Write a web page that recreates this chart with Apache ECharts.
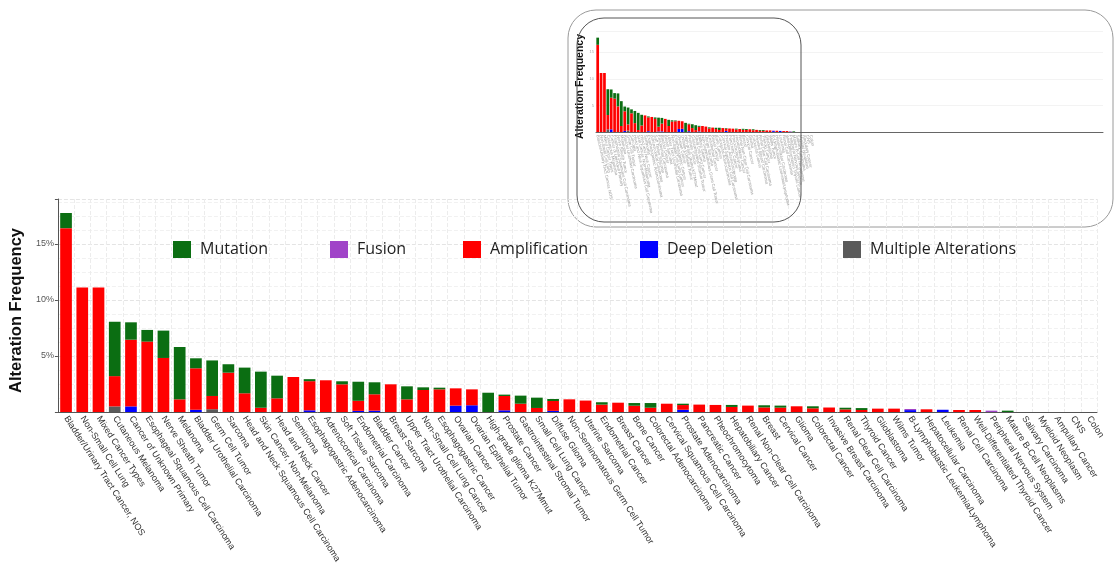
<!DOCTYPE html>
<html><head><meta charset="utf-8">
<script src="https://cdn.jsdelivr.net/npm/echarts@6/dist/echarts.min.js"></script>
<style>html,body{margin:0;padding:0;background:#fff}#c{width:1115px;height:567px}</style>
</head><body><div id="c"></div>
<script>
const categories = [
 'Bladder/Urinary Tract Cancer, NOS','Non-Small Cell Lung','Mixed Cancer Types','Cutaneous Melanoma',
 'Cancer of Unknown Primary','Esophageal Squamous Cell Carcinoma','Nerve Sheath Tumor','Melanoma',
 'Bladder Urothelial Carcinoma','Germ Cell Tumor','Sarcoma','Head and Neck Squamous Cell Carcinoma',
 'Skin Cancer, Non-Melanoma','Head and Neck Cancer','Seminoma','Esophagogastric Adenocarcinoma',
 'Adrenocortical Carcinoma','Soft Tissue Sarcoma','Endometrial Carcinoma','Bladder Cancer',
 'Breast Sarcoma','Upper Tract Urothelial Carcinoma','Non-Small Cell Lung Cancer','Esophagogastric Cancer',
 'Ovarian Cancer','Ovarian Epithelial Tumor','High-grade glioma K27Mmut','Prostate Cancer',
 'Gastrointestinal Stromal Tumor','Small Cell Lung Cancer','Diffuse Glioma','Non-Seminomatous Germ Cell Tumor',
 'Uterine Sarcoma','Endometrial Cancer','Breast Cancer','Bone Cancer',
 'Colorectal Adenocarcinoma','Cervical Squamous Cell Carcinoma','Prostate Adenocarcinoma','Pancreatic Cancer',
 'Pheochromocytoma','Hepatobiliary Cancer','Renal Non-Clear Cell Carcinoma','Breast',
 'Cervical Cancer','Glioma','Colorectal Cancer','Invasive Breast Carcinoma',
 'Renal Clear Cell Carcinoma','Thyroid Cancer','Glioblastoma','Wilms Tumor',
 'B-Lymphoblastic Leukemia/Lymphoma','Hepatocellular Carcinoma','Leukemia','Renal Cell Carcinoma',
 'Well-Differentiated Thyroid Cancer','Peripheral Nervous System','Mature B-Cell Neoplasms','Salivary Carcinoma',
 'Myeloid Neoplasm','Ampullary Cancer','CNS','Colon'
];
const mutation = [
 1.35,0,0,4.85, 1.55,1.04,2.44,4.67, 0.89,3.17,0.75,2.29,
 3.22,2.02,0,0.18, 0,0.27,1.7,1.07, 0,1.16,0.24,0.15,
 0,0,1.72,0.12, 0.72,0.92,0.18,0, 0,0.21,0,0.24,
 0.42,0,0.12,0, 0,0.18,0,0.19, 0.18,0,0.18,0,
 0.15,0.17,0,0, 0,0,0,0, 0,0,0.12,0, 0,0,0,0
];
const fusion = [
 0,0,0,0, 0,0,0,0, 0,0,0,0,
 0,0,0,0, 0,0,0,0, 0,0,0,0,
 0,0,0,0, 0,0,0,0, 0,0,0,0,
 0,0,0,0, 0,0,0,0, 0,0,0,0,
 0,0,0,0, 0.1,0,0,0, 0,0.12,0,0, 0,0,0,0
];
const amplification = [
 16.4,11.1,11.1,2.7, 5.95,6.28,4.82,1.13, 3.7,1.18,3.51,1.67,
 0.38,1.22,3.12,2.6, 2.83,2.47,0.9,1.46, 2.47,1.13,1.96,2.02,
 1.54,1.42,0,1.28, 0.74,0.36,0.88,1.13, 1.02,0.66,0.83,0.56,
 0.38,0.74,0.42,0.66, 0.63,0.45,0.57,0.41, 0.39,0.51,0.33,0.4,
 0.23,0.18,0.3,0.3, 0,0.24,0,0.18, 0.18,0,0,0, 0,0,0,0
];
const deepDeletion = [
 0,0,0,0, 0.5,0,0,0, 0.2,0,0,0,
 0,0,0,0.15, 0,0,0.1,0.12, 0,0,0,0,
 0.57,0.6,0,0.15, 0,0,0.1,0, 0,0,0,0,
 0,0,0.2,0, 0,0,0,0, 0,0,0,0,
 0,0,0,0, 0.17,0,0.2,0, 0,0,0,0, 0,0,0,0
];
const multipleAlterations = [
 0,0,0,0.5, 0,0,0,0, 0,0.25,0,0,
 0,0,0,0, 0,0,0,0, 0,0,0,0,
 0,0,0,0, 0,0,0,0, 0,0,0,0,
 0,0,0,0, 0,0,0,0, 0,0,0,0,
 0,0,0,0, 0,0,0,0, 0,0,0,0, 0,0,0,0
];
const yTicks = [5, 10, 15];
const insetUnlabelledCount = 86; // empty cancer types to the right in the overview inset

const colors = {
  'Mutation': '#0b6e12',
  'Fusion': '#a044c8',
  'Amplification': '#ff0000',
  'Deep Deletion': '#0000ff',
  'Multiple Alterations': '#5a5a5a'
};
const seriesDefs = [
  ['Multiple Alterations', multipleAlterations],
  ['Deep Deletion', deepDeletion],
  ['Fusion', fusion],
  ['Amplification', amplification],
  ['Mutation', mutation]
];
const insetCategories = categories.concat(new Array(insetUnlabelledCount).fill(''));
const pad = arr => arr.concat(new Array(insetUnlabelledCount).fill(0));

const series = [];
seriesDefs.forEach(([name, data]) => {
  series.push({ name, type: 'bar', stack: 'main', xAxisIndex: 0, yAxisIndex: 0, data,
    barWidth: '72%', itemStyle: { color: colors[name] }, emphasis: { disabled: true } });
});
seriesDefs.forEach(([name, data]) => {
  series.push({ name, type: 'bar', stack: 'inset', xAxisIndex: 1, yAxisIndex: 1, data: pad(data),
    barWidth: '80%', itemStyle: { color: colors[name] }, emphasis: { disabled: true } });
});

const legendLefts = { 'Mutation': 173, 'Fusion': 330, 'Amplification': 463, 'Deep Deletion': 640, 'Multiple Alterations': 843 };
const legends = Object.keys(legendLefts).map(n => ({
  data: [n], left: legendLefts[n], top: 241, padding: 0, icon: 'rect', itemWidth: 18, itemHeight: 17,
  textStyle: { fontFamily: 'Open Sans', fontSize: 16, color: '#1e1e1e', padding: [0, 0, 4, 4] },
  selectedMode: false
}));

const chart = echarts.init(document.getElementById('c'), null, { renderer: 'canvas' });
chart.setOption({
  animation: false,
  backgroundColor: '#fff',
  legend: legends,
  graphic: [
    { type: 'rect', z: -1, shape: { x: 568, y: 10, width: 545, height: 217, r: 28 },
      style: { fill: 'none', stroke: '#9a9a9a', lineWidth: 1 } },
    { type: 'rect', z: 100, shape: { x: 577, y: 18, width: 224, height: 204, r: 27 },
      style: { fill: 'none', stroke: '#555', lineWidth: 1 } }
  ],
  grid: [
    { left: 54, top: 199, width: 1043, height: 213 },
    { left: 596, top: 31, width: 507, height: 101 }
  ],
  xAxis: [
    { type: 'category', gridIndex: 0, data: categories,
      axisLine: { lineStyle: { color: '#555', width: 1 } },
      axisTick: { alignWithLabel: true, length: 3, lineStyle: { color: '#555' } },
      axisLabel: { interval: 0, rotate: -57, fontFamily: 'Liberation Sans', fontSize: 9, color: '#333', margin: 5 },
      splitLine: { show: true, interval: 0, lineStyle: { color: '#ececec', type: 'dashed' } } },
    { type: 'category', gridIndex: 1, data: insetCategories,
      axisLine: { lineStyle: { color: '#666', width: 1 } },
      axisTick: { show: false },
      axisLabel: { interval: 0, rotate: -78, fontFamily: 'Liberation Sans', fontSize: 4.2, color: '#9a9a9a', margin: 3 },
      splitLine: { show: false } }
  ],
  yAxis: [
    { type: 'value', gridIndex: 0, min: 0, max: 19, interval: 5,
      name: 'Alteration Frequency', nameLocation: 'middle', nameGap: 28,
      nameTextStyle: { fontFamily: 'Liberation Sans', fontWeight: 'bold', fontSize: 16.5, color: '#111', padding: [0, 0, 0, -10] },
      axisLine: { show: true, lineStyle: { color: '#555' } },
      axisTick: { show: true, length: 3, lineStyle: { color: '#555' } },
      axisLabel: { fontFamily: 'Liberation Sans', fontSize: 9, color: '#555', margin: 4,
        formatter: v => yTicks.indexOf(v) >= 0 ? v + '%' : '' },
      splitLine: { show: true, lineStyle: { color: '#e4e4e4', type: 'dashed' } },
      minorTick: { show: false, splitNumber: 4 },
      minorSplitLine: { show: true, lineStyle: { color: '#f1f1f1', type: 'dashed' } } },
    { type: 'value', gridIndex: 1, min: 0, max: 19, interval: 5,
      name: 'Alteration Frequency', nameLocation: 'middle', nameGap: 9,
      nameTextStyle: { fontFamily: 'Liberation Sans', fontWeight: 'bold', fontSize: 10.5, color: '#111', padding: [0, 0, 0, -10] },
      axisLine: { show: false }, axisTick: { show: false },
      axisLabel: { fontFamily: 'Liberation Sans', fontSize: 4, color: '#aaa', margin: 2,
        formatter: v => yTicks.indexOf(v) >= 0 ? String(v) : '' },
      splitLine: { show: true, lineStyle: { color: '#f3f3f3' } } }
  ],
  series
});
</script></body></html>
